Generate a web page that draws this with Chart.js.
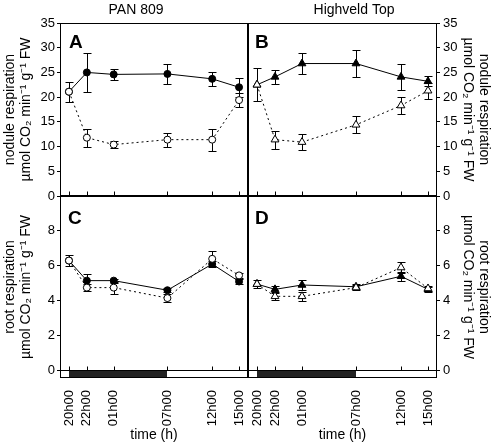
<!DOCTYPE html>
<html>
<head>
<meta charset="utf-8">
<script src="https://cdn.jsdelivr.net/npm/chart.js@4.4.0/dist/chart.umd.min.js"></script>
<style>
  body { margin: 0; background: #fff; }
  #wrap { position: relative; width: 498px; height: 446px; }
  #wrap canvas { position: absolute; left: 0; top: 0; }
</style>
</head>
<body>
<div id="wrap">
  <canvas id="panelA" width="498" height="446"></canvas>
  <canvas id="panelB" width="498" height="446"></canvas>
  <canvas id="panelC" width="498" height="446"></canvas>
  <canvas id="panelD" width="498" height="446"></canvas>
</div>
<script>
// sampling times, hours after 20h00
const hours = [0, 2, 5, 11, 16, 19];
const timeLabels = ['20h00', '22h00', '01h00', '07h00', '12h00', '15h00'];
const nightSpan = [0, 11]; // dark period 20h00 -> 07h00

const noduleTicks = [0, 5, 10, 15, 20, 25, 30, 35];
const rootTicks = [0, 2, 4, 6, 8];

const noduleTitle = ['nodule respiration', 'µmol CO₂ min⁻¹ g⁻¹ FW'];
const rootTitle = ['root respiration', 'µmol CO₂ min⁻¹ g⁻¹ FW'];

// A - PAN 809 nodules
const panNoduleSolid = [21.1, 25.0, 24.6, 24.7, 23.7, 22.0];
const panNoduleSolidErr = [0, 4.0, 1.1, 2.1, 1.4, 1.9];
const panNoduleOpen = [21.1, 11.8, 10.4, 11.4, 11.4, 19.4];
const panNoduleOpenErr = [2.0, 1.8, 0.7, 1.4, 2.2, 1.4];

// B - Highveld Top nodules
const hvNoduleSolid = [22.5, 24.1, 26.8, 26.8, 24.1, 23.2];
const hvNoduleSolidErr = [0, 1.4, 2.2, 2.7, 2.6, 1.0];
const hvNoduleOpen = [22.5, 11.4, 10.9, 14.4, 18.3, 21.3];
const hvNoduleOpenErr = [3.3, 1.8, 1.6, 1.7, 1.7, 1.6];

// C - PAN 809 roots
const panRootSolid = [6.3, 5.15, 5.15, 4.6, 6.1, 5.1];
const panRootSolidErr = [0, 0.37, 0.12, 0.12, 0.15, 0.15];
const panRootOpen = [6.3, 4.75, 4.75, 4.15, 6.4, 5.45];
const panRootOpenErr = [0.3, 0.2, 0.35, 0.25, 0.42, 0.15];

// D - Highveld Top roots
const hvRootSolid = [4.95, 4.65, 4.9, 4.8, 5.4, 4.65];
const hvRootSolidErr = [0, 0.2, 0.27, 0.15, 0.27, 0.15];
const hvRootOpen = [4.95, 4.25, 4.25, 4.75, 5.9, 4.7];
const hvRootOpenErr = [0.25, 0.23, 0.25, 0.15, 0.3, 0.15];

const FONT = '"Liberation Sans", Arial, sans-serif';
Chart.defaults.font.family = FONT;
Chart.defaults.font.size = 13;
Chart.defaults.color = '#000';

const toPoints = vals => vals.map((v, i) => ({ x: hours[i], y: v }));

// vertical error bars with caps, under the markers
const errorBars = {
    id: 'errorBars',
    beforeDatasetsDraw(chart) {
        const ctx = chart.ctx;
        const xs = chart.scales.x, ys = chart.scales.y;
        ctx.save();
        ctx.strokeStyle = '#000';
        ctx.lineWidth = 1;
        chart.data.datasets.forEach(ds => {
            if (!ds.errors) return;
            ds.data.forEach((p, i) => {
                const e = ds.errors[i];
                if (!e) return;
                const x = Math.round(xs.getPixelForValue(p.x)) + 0.5;
                const yTop = Math.round(ys.getPixelForValue(p.y + e)) + 0.5;
                const yBot = Math.round(ys.getPixelForValue(p.y - e)) + 0.5;
                ctx.beginPath();
                ctx.moveTo(x, yTop); ctx.lineTo(x, yBot);
                ctx.moveTo(x - 4, yTop); ctx.lineTo(x + 4, yTop);
                ctx.moveTo(x - 4, yBot); ctx.lineTo(x + 4, yBot);
                ctx.stroke();
            });
        });
        ctx.restore();
    }
};

// frame, day/night bar, inward time ticks and panel texts
const panelDecor = {
    id: 'panelDecor',
    afterDraw(chart, args, opts) {
        const ctx = chart.ctx;
        const a = chart.chartArea;
        const xs = chart.scales.x, ys = chart.scales.y;
        const y0 = Math.round(ys.getPixelForValue(0));
        ctx.save();
        ctx.strokeStyle = '#000';
        ctx.lineWidth = 1;

        if (opts.showBar) {
            const xn1 = Math.round(xs.getPixelForValue(nightSpan[0]));
            const xn2 = Math.round(xs.getPixelForValue(nightSpan[1]));
            ctx.fillStyle = '#fff';
            ctx.fillRect(a.left, y0, a.right - a.left, a.bottom - y0);
            ctx.fillStyle = '#222';
            ctx.fillRect(xn1, y0, xn2 - xn1, a.bottom - y0);
            ctx.beginPath();
            ctx.moveTo(a.left, y0 + 0.5);
            ctx.lineTo(a.right, y0 + 0.5);
            ctx.stroke();
        }

        // inward ticks on the zero line
        const tickBase = opts.showBar ? y0 + 0.5 : a.bottom - 0.5;
        ctx.beginPath();
        hours.forEach(h => {
            const x = Math.round(xs.getPixelForValue(h)) + 0.5;
            ctx.moveTo(x, tickBase);
            ctx.lineTo(x, tickBase - 4);
        });
        ctx.stroke();

        ctx.strokeRect(a.left + 0.5, a.top + 0.5, a.right - a.left - 1, a.bottom - a.top - 1);

        ctx.fillStyle = '#000';
        ctx.textBaseline = 'alphabetic';
        (opts.texts || []).forEach(t => {
            ctx.font = t.font;
            ctx.textAlign = t.align || 'left';
            ctx.fillText(t.text, t.x, t.y);
        });

        // right-hand axis title, read top to bottom
        if (opts.rightTitle) {
            const cy = (a.top + a.bottom) / 2;
            ctx.font = '14px ' + FONT;
            ctx.textAlign = 'center';
            ctx.textBaseline = 'middle';
            opts.rightTitle.forEach((line, i) => {
                ctx.save();
                ctx.translate(484 - i * 16, cy);
                ctx.rotate(Math.PI / 2);
                ctx.fillText(line, 0, 0);
                ctx.restore();
            });
        }
        ctx.restore();
    }
};

function makePanel(id, p) {
    const canvas = document.getElementById(id);
    const isLeft = p.side === 'left';
    const lineBase = {
        borderColor: '#000',
        borderWidth: 1,
        tension: 0,
        fill: false,
        pointStyle: p.marker,
        pointRadius: p.radius,
        pointBorderColor: '#000',
        pointBorderWidth: 1
    };
    new Chart(canvas, {
        type: 'line',
        data: {
            datasets: [
                Object.assign({}, lineBase, {
                    data: toPoints(p.open),
                    errors: p.openErr,
                    borderDash: [2, 3],
                    pointBackgroundColor: '#fff'
                }),
                Object.assign({}, lineBase, {
                    data: toPoints(p.solid),
                    errors: p.solidErr,
                    pointBackgroundColor: '#000'
                })
            ]
        },
        options: {
            responsive: false,
            animation: false,
            events: [],
            layout: { padding: p.padding },
            plugins: {
                legend: { display: false },
                tooltip: { enabled: false },
                panelDecor: {
                    showBar: p.showTime,
                    texts: p.texts,
                    rightTitle: isLeft ? null : p.title
                }
            },
            scales: {
                x: {
                    type: 'linear',
                    min: -1,
                    max: 20,
                    display: p.showTime,
                    afterBuildTicks: s => { s.ticks = hours.map(v => ({ value: v })); },
                    // only the bottom row carries the time axis
                    afterFit: s => { s.height = p.showTime ? 68 : 0; },
                    grid: { display: false },
                    border: { display: false },
                    ticks: {
                        autoSkip: false,
                        minRotation: 90,
                        maxRotation: 90,
                        padding: 4,
                        callback: v => timeLabels[hours.indexOf(v)]
                    },
                    title: {
                        display: true,
                        text: 'time (h)',
                        font: { size: 14, lineHeight: 1.2 },
                        padding: { top: 2, bottom: 2 }
                    }
                },
                y: {
                    position: p.side,
                    min: p.yMin,
                    max: p.yMax,
                    afterBuildTicks: s => { s.ticks = p.yTicks.map(v => ({ value: v })); },
                    afterFit: s => { s.width = isLeft ? 60 : 61; },
                    grid: { drawOnChartArea: false, drawTicks: true, tickLength: 3, color: '#000' },
                    border: { display: false },
                    ticks: { padding: isLeft ? 2 : 3 },
                    title: {
                        display: isLeft,
                        text: p.title,
                        font: { size: 14, lineHeight: 1.15 },
                        padding: { top: 2, bottom: 0 }
                    }
                }
            }
        },
        plugins: [errorBars, panelDecor]
    });
}

makePanel('panelA', {
    solid: panNoduleSolid, solidErr: panNoduleSolidErr,
    open: panNoduleOpen, openErr: panNoduleOpenErr,
    marker: 'circle', radius: 3.5,
    side: 'left', yMin: 0, yMax: 35, yTicks: noduleTicks, title: noduleTitle,
    showTime: false,
    padding: { left: 0, right: 250, top: 23, bottom: 250 },
    texts: [
        { text: 'PAN 809', x: 136, y: 14, font: '14px ' + FONT, align: 'center' },
        { text: 'A', x: 69, y: 48, font: 'bold 19px ' + FONT }
    ]
});

makePanel('panelB', {
    solid: hvNoduleSolid, solidErr: hvNoduleSolidErr,
    open: hvNoduleOpen, openErr: hvNoduleOpenErr,
    marker: 'triangle', radius: 4.5,
    side: 'right', yMin: 0, yMax: 35, yTicks: noduleTicks, title: noduleTitle,
    showTime: false,
    padding: { left: 248, right: 0, top: 23, bottom: 250 },
    texts: [
        { text: 'Highveld Top', x: 354, y: 14, font: '14px ' + FONT, align: 'center' },
        { text: 'B', x: 255, y: 48, font: 'bold 19px ' + FONT }
    ]
});

makePanel('panelC', {
    solid: panRootSolid, solidErr: panRootSolidErr,
    open: panRootOpen, openErr: panRootOpenErr,
    marker: 'circle', radius: 3.5,
    side: 'left', yMin: -0.43, yMax: 10, yTicks: rootTicks, title: rootTitle,
    showTime: true,
    padding: { left: 0, right: 250, top: 196, bottom: 0 },
    texts: [
        { text: 'C', x: 68, y: 223.5, font: 'bold 19px ' + FONT }
    ]
});

makePanel('panelD', {
    solid: hvRootSolid, solidErr: hvRootSolidErr,
    open: hvRootOpen, openErr: hvRootOpenErr,
    marker: 'triangle', radius: 4.5,
    side: 'right', yMin: -0.43, yMax: 10, yTicks: rootTicks, title: rootTitle,
    showTime: true,
    padding: { left: 248, right: 0, top: 196, bottom: 0 },
    texts: [
        { text: 'D', x: 255, y: 223.5, font: 'bold 19px ' + FONT }
    ]
});
</script>
</body>
</html>
